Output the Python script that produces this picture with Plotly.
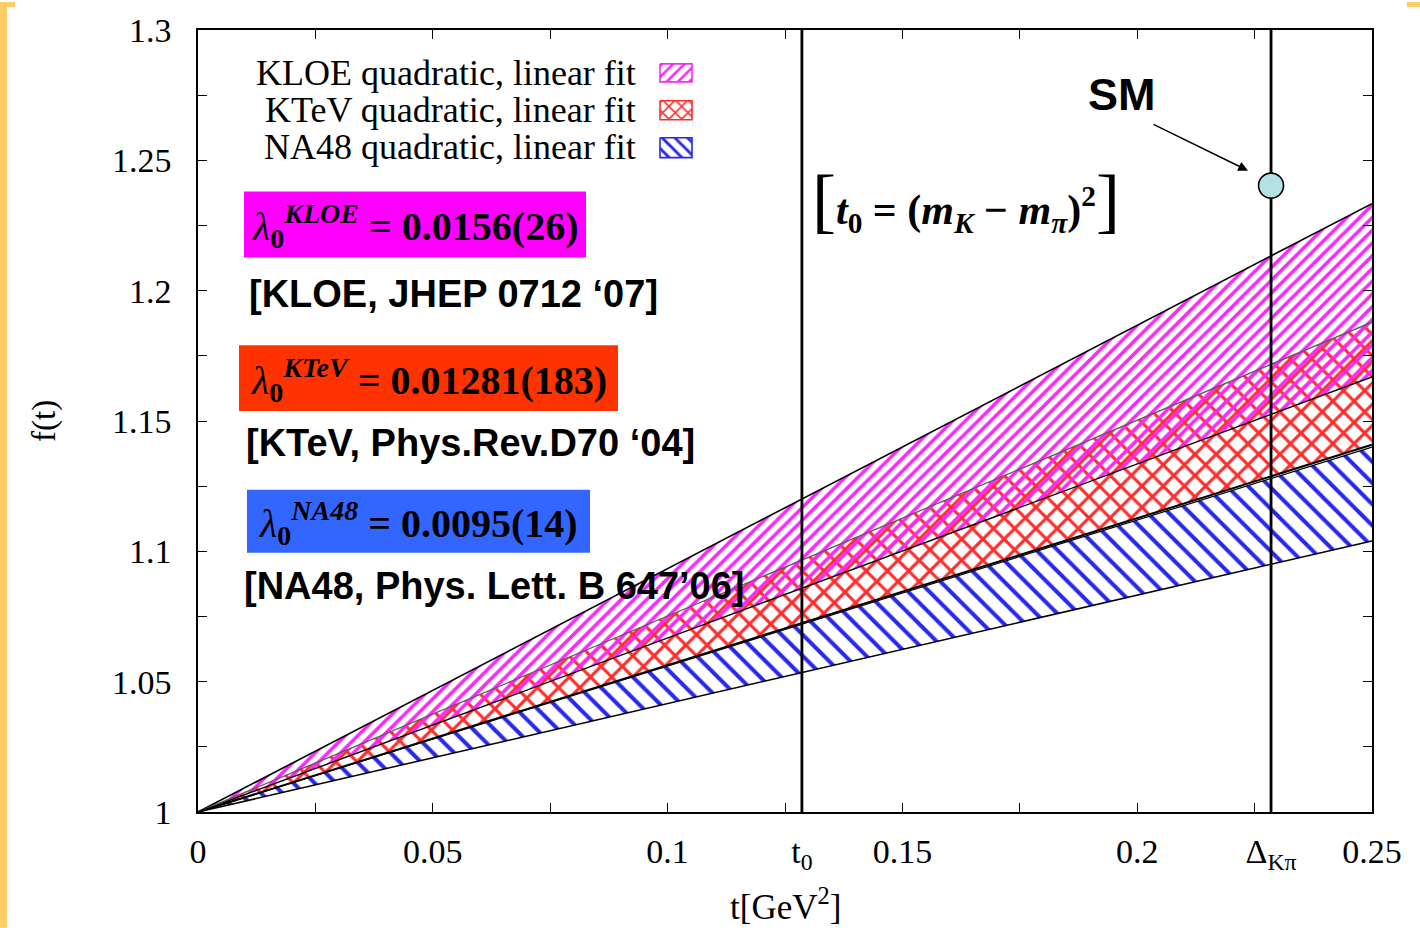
import plotly.graph_objects as go

# ---------------- data ----------------
t_range = [0.0, 0.25]
f_range = [1.0, 1.3]
experiments = ["KLOE", "KTeV", "NA48"]
# band edges at t = 0 and t = 0.25 (bands are straight lines from f(0)=1)
band_t = [0.0, 0.25]
band_upper = {"KLOE": [1.0, 1.2334], "KTeV": [1.0, 1.1879], "NA48": [1.0, 1.1400]}
band_lower = {"KLOE": [1.0, 1.1669], "KTeV": [1.0, 1.1409], "NA48": [1.0, 1.1040]}
lambda_text = ["0.0156(26)", "0.01281(183)", "0.0095(14)"]
citations = ["[KLOE, JHEP 0712 \u201807]", "[KTeV, Phys.Rev.D70 \u201804]", "[NA48, Phys. Lett. B 647\u201906]"]
t0 = 0.1286
delta_kpi = 0.2285
sm_value = 1.2403
x_tickvals = [0, 0.05, 0.1, t0, 0.15, 0.2, delta_kpi, 0.25]
x_ticktext = ["0", "0.05", "0.1", "t<sub>0</sub>", "0.15", "0.2", "\u0394<sub>K\u03c0</sub>", "0.25"]
y_tickvals = [1, 1.05, 1.1, 1.15, 1.2, 1.25, 1.3]
y_ticktext = ["1", "1.05", "1.1", "1.15", "1.2", "1.25", "1.3"]

# ---------------- style ----------------
W, H = 1420, 928
ML, MR, MT, MB = 198, 48, 28, 116
PW, PH = W - ML - MR, H - MT - MB
SERIF = "Liberation Serif, Times New Roman, serif"
SANS = "Liberation Sans, Arial, sans-serif"

colors = {"KLOE": "rgb(250,40,250)", "KTeV": "rgb(255,45,45)", "NA48": "rgb(40,40,235)"}
patterns = {"KLOE": ("/", 9, 0.4), "KTeV": ("x", 15, 0.38), "NA48": ("\\", 15, 0.27)}
box_colors = {"KLOE": "#ff00ff", "KTeV": "#ff3300", "NA48": "#3366ff"}


def px2t(px):
    return (px - ML) / PW * (t_range[1] - t_range[0]) + t_range[0]


def py2f(py):
    return f_range[1] - (py - MT) / PH * (f_range[1] - f_range[0])


def pxp(px):  # pixel -> paper x
    return (px - ML) / PW


def pyp(py):  # pixel -> paper y
    return 1 - (py - MT) / PH


fig = go.Figure()

# bands: draw NA48, KTeV, then KLOE on top
for name in ["NA48", "KTeV", "KLOE"]:
    shape, size, sol = patterns[name]
    xs = band_t + band_t[::-1]
    ys = band_upper[name] + band_lower[name][::-1]
    fig.add_trace(go.Scatter(
        x=xs, y=ys, mode="lines", fill="toself", line=dict(width=0),
        fillcolor="rgba(0,0,0,0)",
        fillpattern=dict(shape=shape, size=size, solidity=sol, fgcolor=colors[name],
                         fillmode="replace"),
        hoverinfo="skip", showlegend=False))

# band boundary lines
line_styles = [
    ("KLOE", "upper", "black", 1.6),
    ("KLOE", "lower", "black", 1.4),
    ("KTeV", "upper", "rgb(90,90,90)", 1.3),
    ("KTeV", "lower", "black", 2.0),
    ("NA48", "upper", "black", 1.2),
    ("NA48", "lower", "black", 1.5),
]
for name, which, col, w in line_styles:
    ys = band_upper[name] if which == "upper" else band_lower[name]
    fig.add_trace(go.Scatter(x=band_t, y=ys, mode="lines", line=dict(color=col, width=w),
                             hoverinfo="skip", showlegend=False))

# vertical lines at t0 and Delta_Kpi
for xv in [t0, delta_kpi]:
    fig.add_trace(go.Scatter(x=[xv, xv], y=f_range, mode="lines",
                             line=dict(color="black", width=2.8),
                             hoverinfo="skip", showlegend=False))

# SM point
fig.add_trace(go.Scatter(x=[delta_kpi], y=[sm_value], mode="markers",
                         marker=dict(size=25, color="rgb(180,226,226)",
                                     line=dict(color="black", width=1.6)),
                         hoverinfo="skip", showlegend=False))

# legend swatches on a pixel-unit overlay axis
sw_y = [(62, 80), (99, 118), (136, 156)]
for name, (ya, yb) in zip(experiments, sw_y):
    shape, size, sol = patterns[name]
    fig.add_trace(go.Scatter(
        x=[660, 692, 692, 660, 660], y=[ya, ya, yb, yb, ya], mode="lines", fill="toself",
        line=dict(color=colors[name], width=1.6), fillcolor="rgba(0,0,0,0)",
        fillpattern=dict(shape=shape, size=9 if name != "KLOE" else 8, solidity=0.32,
                         fgcolor=colors[name], fillmode="replace"),
        xaxis="x2", yaxis="y2", hoverinfo="skip", showlegend=False))

annotations = []
# legend labels
leg_labels = ["KLOE quadratic, linear fit", "KTeV quadratic, linear fit", "NA48 quadratic, linear fit"]
for lab, yc in zip(leg_labels, [71, 108, 145]):
    annotations.append(dict(x=pxp(638), y=pyp(yc), xref="paper", yref="paper", text=lab,
                            showarrow=False, xanchor="right", yanchor="middle",
                            font=dict(family=SERIF, size=36, color="black")))

# lambda boxes
boxes = [(244, 586, 190, 256), (239, 618, 344, 410), (247, 590, 489, 552)]
for name, val, (x0, x1, y0, y1) in zip(experiments, lambda_text, boxes):
    txt = ("<i>\u03bb</i><sub><b>0</b></sub><sup><b><i>%s</i></b></sup> <b>= %s</b>" % (name, val))
    fig.add_shape(type="rect", xref="paper", yref="paper", x0=pxp(x0), x1=pxp(x1),
                  y0=pyp(y1), y1=pyp(y0), fillcolor=box_colors[name], line=dict(width=0),
                  layer="above")
    annotations.append(dict(x=pxp((x0 + x1) / 2), y=pyp((y0 + y1) / 2 + 2), xref="paper", yref="paper",
                            text=txt, showarrow=False, xanchor="center", yanchor="middle",
                            font=dict(family=SERIF, size=40, color="black")))

# citations
for cit, (xl, yc) in zip(citations, [(247, 293), (244, 442), (242, 585)]):
    annotations.append(dict(x=pxp(xl), y=pyp(yc), xref="paper", yref="paper", text="<b>%s</b>" % cit,
                            showarrow=False, xanchor="left", yanchor="middle",
                            font=dict(family=SANS, size=38, color="black")))

# t0 definition
annotations.append(dict(
    x=pxp(966), y=pyp(198), xref="paper", yref="paper", showarrow=False,
    xanchor="center", yanchor="middle",
    text=("<span style='font-size:72px;font-weight:normal'>[</span>"
          "<b><i>t</i><sub>0</sub> = (<i>m</i><sub><i>K</i></sub> \u2212 <i>m</i><sub><i>\u03c0</i></sub>)<sup>2</sup></b>"
          "<span style='font-size:72px;font-weight:normal'>]</span>"),
    font=dict(family=SERIF, size=42, color="black")))

# SM label and arrow
annotations.append(dict(x=pxp(1122), y=pyp(93), xref="paper", yref="paper", text="<b>SM</b>",
                        showarrow=False, xanchor="center", yanchor="middle",
                        font=dict(family=SANS, size=45, color="black")))
annotations.append(dict(x=px2t(1248), y=py2f(169), xref="x", yref="y", ax=-96, ay=-47,
                        axref="pixel", ayref="pixel", text="", showarrow=True,
                        arrowhead=2, arrowsize=1.3, arrowwidth=1.5, arrowcolor="black"))

# axis titles
annotations.append(dict(x=pxp(785), y=pyp(905), xref="paper", yref="paper",
                        text="t[GeV<sup>2</sup>]", showarrow=False, xanchor="center", yanchor="middle",
                        font=dict(family=SERIF, size=35, color="black")))
annotations.append(dict(x=pxp(44), y=pyp(420), xref="paper", yref="paper",
                        text="f(t)", showarrow=False, textangle=-90, xanchor="center", yanchor="middle",
                        font=dict(family=SERIF, size=33, color="black")))

# slide frame (yellow strips)
frame_col = "#ffcc66"
shapes = [
    dict(type="rect", xref="paper", yref="paper", x0=pxp(0), x1=pxp(7), y0=pyp(H), y1=pyp(0),
         fillcolor=frame_col, line=dict(width=0), layer="above"),
    dict(type="rect", xref="paper", yref="paper", x0=pxp(0), x1=pxp(15), y0=pyp(5), y1=pyp(0),
         fillcolor=frame_col, line=dict(width=0), layer="above"),
    dict(type="rect", xref="paper", yref="paper", x0=pxp(1407), x1=pxp(W), y0=pyp(5), y1=pyp(0),
         fillcolor=frame_col, line=dict(width=0), layer="above"),
]
for s in shapes:
    fig.add_shape(**s)

axis_common = dict(showgrid=False, zeroline=False, showline=True, linecolor="black", linewidth=1.5,
                   mirror="ticks", ticks="inside", ticklen=9, tickwidth=1.2, tickcolor="black",
                   tickfont=dict(family=SERIF, size=34, color="black"))

fig.update_layout(
    width=W, height=H, margin=dict(l=ML, r=MR, t=MT, b=MB),
    paper_bgcolor="white", plot_bgcolor="white", showlegend=False,
    xaxis=dict(range=t_range, tickmode="array", tickvals=x_tickvals, ticktext=x_ticktext,
               ticklabelstandoff=8,
               minor=dict(dtick=0.025, tick0=0, ticks="inside", ticklen=9, tickcolor="black",
                          tickwidth=1.2),
               **axis_common),
    yaxis=dict(range=f_range, tickmode="array", tickvals=y_tickvals, ticktext=y_ticktext,
               ticklabelstandoff=18,
               minor=dict(dtick=0.025, tick0=1, ticks="inside", ticklen=9, tickcolor="black",
                          tickwidth=1.2),
               **axis_common),
    xaxis2=dict(range=[ML, W - MR], overlaying="x", anchor="y2", visible=False),
    yaxis2=dict(range=[H - MB, MT], overlaying="y", anchor="x2", visible=False),
    annotations=annotations,
)

fig.write_html("out.html")
